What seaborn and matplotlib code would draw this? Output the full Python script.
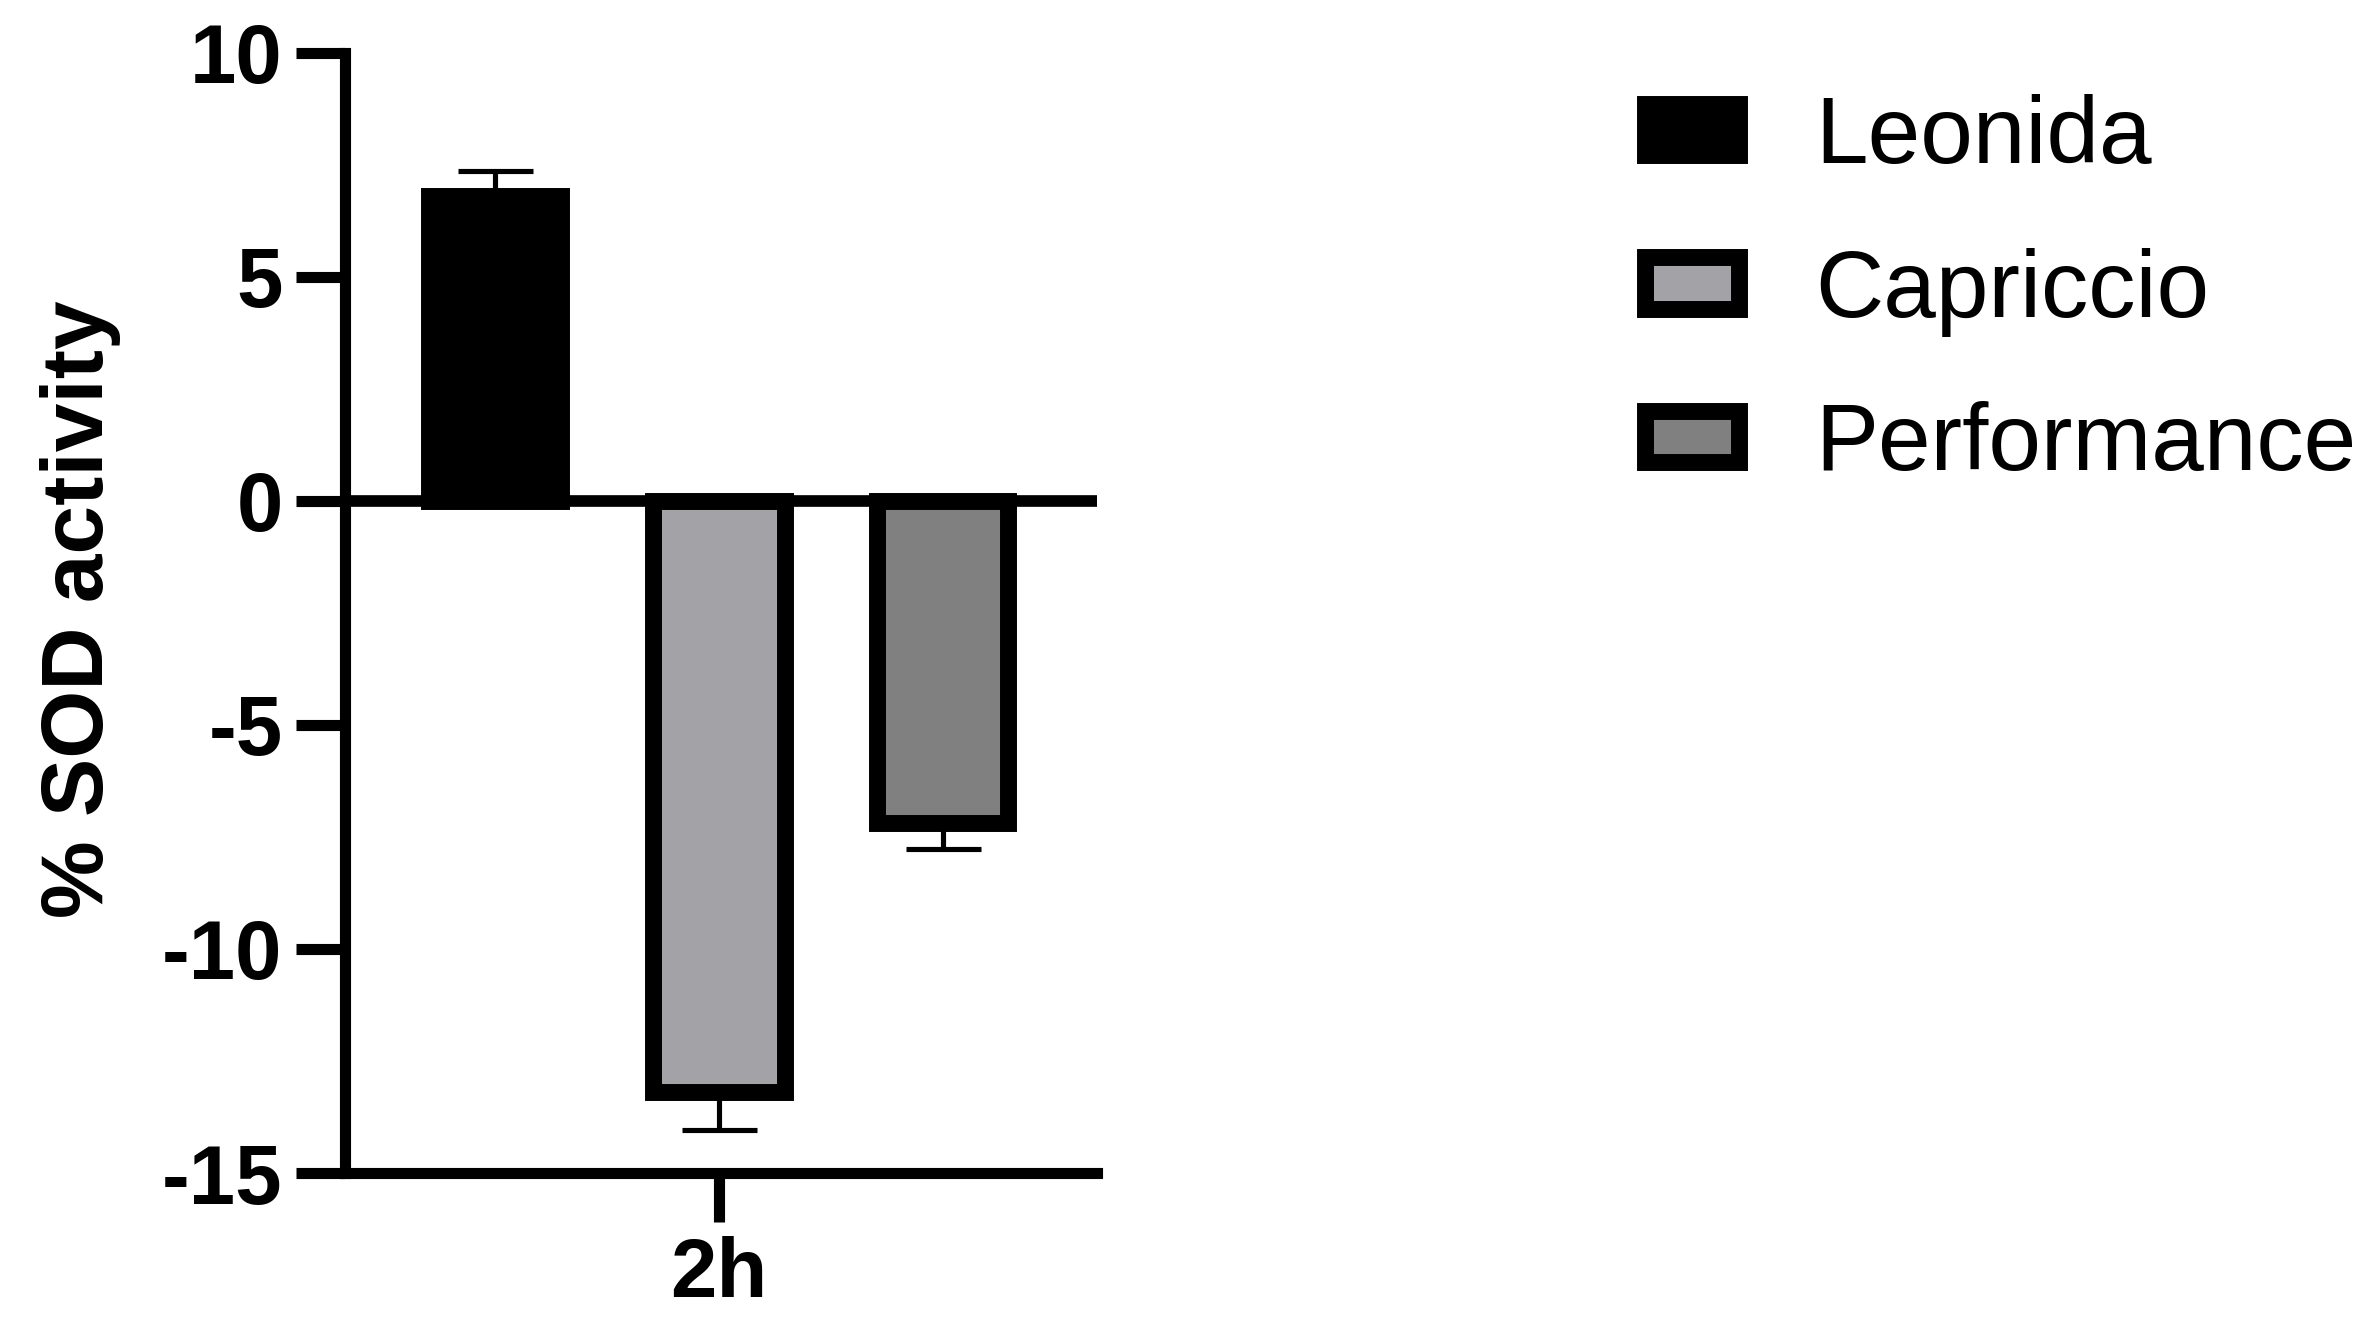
import matplotlib
matplotlib.use("Agg")
import matplotlib.pyplot as plt
import matplotlib.patches as mpatches
import seaborn as sns
import pandas as pd

# ---- data ----
timepoints = ["2h", "2h", "2h"]
cultivars = ["Leonida", "Capriccio", "Performance"]
sod_activity = [6.8, -13.2, -7.2]
sod_sem = [0.55, 0.85, 0.57]
bar_colors = ["#000000", "#A3A2A7", "#808080"]
y_ticks = [-15, -10, -5, 0, 5, 10]
y_label = "% SOD activity"

df = pd.DataFrame({"time": timepoints, "cultivar": cultivars, "value": sod_activity})

sns.set_theme(style="ticks")
plt.rcParams["font.family"] = ["Liberation Sans", "DejaVu Sans"]
plt.rcParams["text.color"] = "black"
plt.rcParams["axes.labelcolor"] = "black"

fig = plt.figure(figsize=(23.7, 13.3), dpi=100)
fig.patch.set_facecolor("white")
ax = fig.add_axes([0.1456, 0.1180, 0.3173, 0.8424])
ax.set_facecolor("white")

sns.barplot(data=df, x="time", y="value", hue="cultivar", hue_order=cultivars,
            palette=bar_colors, edgecolor="black", linewidth=12.2,
            width=0.8, gap=0.41, errorbar=None, legend=False, ax=ax,
            saturation=1)

for cont, v, e in zip(ax.containers, sod_activity, sod_sem):
    bar = cont[0]
    xc = bar.get_x() + bar.get_width() / 2
    yerr = [[0], [e]] if v > 0 else [[e], [0]]
    ax.errorbar([xc], [v], yerr=yerr, fmt="none", ecolor="black",
                elinewidth=3.7, capsize=27, capthick=3.7, zorder=2)

ax.axhline(0, color="black", lw=8.4, zorder=3)

ax.set_ylim(-15, 10)
ax.set_xlim(-0.446, 0.451)
ax.set_yticks(y_ticks)
ax.set_yticklabels([str(t) for t in y_ticks])

for side in ["top", "right"]:
    ax.spines[side].set_visible(False)
for side in ["left", "bottom"]:
    ax.spines[side].set_linewidth(8)
    ax.spines[side].set_color("black")

ax.tick_params(axis="both", length=35, width=8, color="black", pad=10,
               labelsize=60, labelcolor="black", direction="out")
for lab in ax.get_xticklabels() + ax.get_yticklabels():
    lab.set_fontweight("bold")

ax.set_xlabel("")
ax.set_ylabel(y_label, fontsize=63, fontweight="bold", color="black")
ax.yaxis.set_label_coords(-0.298, 0.503)

handles = [mpatches.Patch(facecolor=c, edgecolor="black", linewidth=12.2, label=n)
           for c, n in zip(bar_colors, cultivars)]
fig.legend(handles=handles, loc="upper left", bbox_to_anchor=(0.694, 0.929),
           frameon=False, fontsize=68, borderpad=0, borderaxespad=0,
           handlelength=1.0, handleheight=0.46, handletextpad=0.8,
           labelspacing=0.68, labelcolor="black")

fig.savefig("out.png", dpi=100, facecolor="white")
